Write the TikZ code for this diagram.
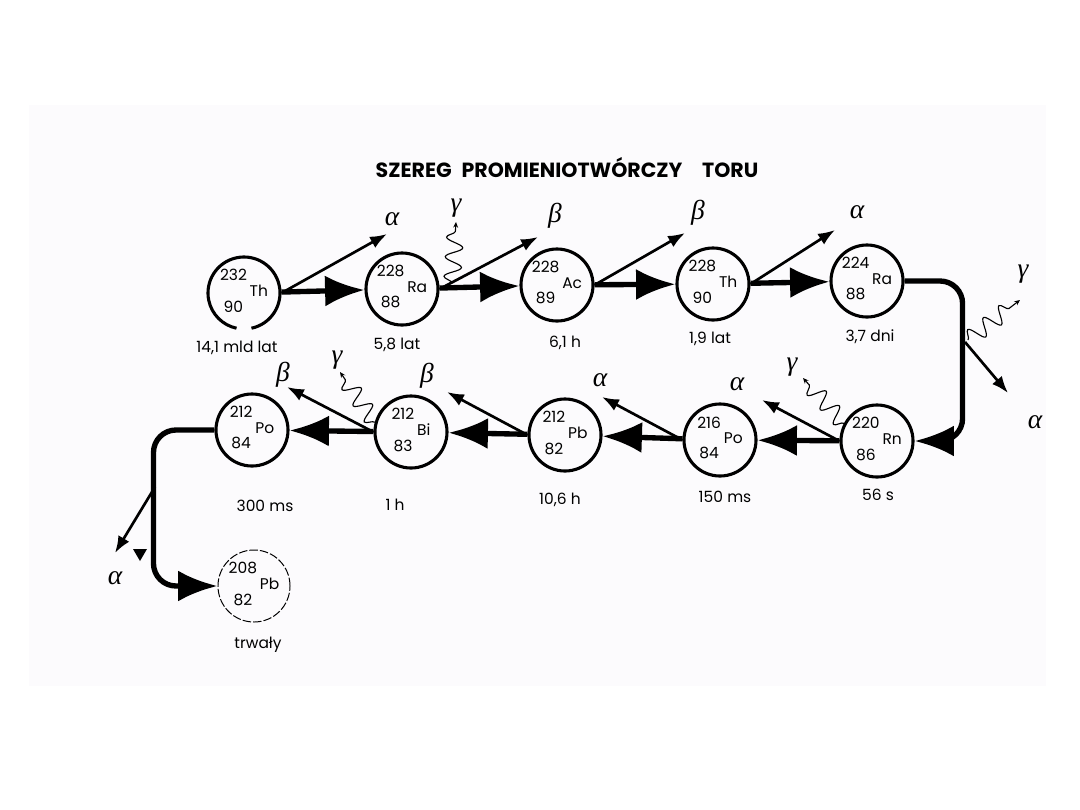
\documentclass[tikz,border=0pt]{standalone}
\usepackage{fontspec}
\setmainfont{Poppins}
\newfontfamily\grk{Liberation Serif}
\usetikzlibrary{arrows.meta,decorations.pathmorphing}
\definecolor{paper}{RGB}{252,251,253}
% nuclide: mass number, atomic number, symbol
\newcommand{\iso}[3]{\begin{tabular}{@{}c@{\hspace{2pt}}l@{}}#1&\\&#3\\#2&\end{tabular}}

\begin{document}
\begin{tikzpicture}[x=0.025cm, y=-0.025cm,
    nuc/.style={circle, draw, line width=2.2pt, minimum size=1.8cm, inner sep=0pt,
                font=\fontsize{11}{10.5}\selectfont},
    decay/.style={line width=3.8pt, -{Latex[length=28pt,width=22pt]}},
    emit/.style={line width=1.9pt, -{Latex[length=12pt,width=9pt]}},
    gam/.style={line width=0.8pt, -{Stealth[length=4pt,width=3.5pt]}, decorate,
                decoration={snake, amplitude=6pt, segment length=14pt, post length=4pt}},
    gr/.style={font=\grk\itshape\fontsize{19.5}{21}\selectfont},
    hl/.style={font=\fontsize{11}{12}\selectfont}]
  \fill[white] (0,0) rectangle (1080,810);
  \fill[paper] (29,105) rectangle (1046,686);
  \useasboundingbox (0,0) rectangle (1080,810);

  \node[font=\fontsize{14.6}{16}\selectfont\bfseries] (title) at (567,168)
    {SZEREG\hspace{7pt}PROMIENIOTWÓRCZY\hspace{14pt}TORU};

  % top row
  \node[nuc, draw=none] (th232) at (244,293) {\iso{232}{90}{Th}};
  \draw[line width=2.2pt] (th232.center) ++(-78:0.9cm) arc[start angle=-78, end angle=258, radius=0.9cm];
  \node[nuc] (ra228) at (402,289) {\iso{228}{88}{Ra}};
  \node[nuc] (ac228) at (557,285) {\iso{228}{89}{Ac}};
  \node[nuc] (th228) at (713,284) {\iso{228}{90}{Th}};
  \node[nuc] (ra224) at (867,281) {\iso{224}{88}{Ra}};
  % bottom row
  \node[nuc] (rn220) at (877,441) {\iso{220}{86}{Rn}};
  \node[nuc] (po216) at (720,440) {\iso{216}{84}{Po}};
  \node[nuc] (pb212) at (565,435) {\iso{212}{82}{Pb}};
  \node[nuc] (bi212) at (411,432) {\iso{212}{83}{Bi}};
  \node[nuc] (po212) at (252,430) {\iso{212}{84}{Po}};
  \node[nuc, line width=0.7pt, dash pattern=on 6pt off 1.5pt] (pb208) at (254,586) {\iso{208}{82}{Pb}};

  % half-lives
  \node[hl] (t1)  at (237,348) {14,1 mld lat};
  \node[hl] (t2)  at (397,345) {5,8 lat};
  \node[hl] (t3)  at (565,343) {6,1 h};
  \node[hl] (t4)  at (710,339) {1,9 lat};
  \node[hl] (t5)  at (870,337) {3,7 dni};
  \node[hl] (t6)  at (265,506) {300 ms};
  \node[hl] (t7)  at (395,505) {1 h};
  \node[hl] (t8)  at (560,500) {10,6 h};
  \node[hl] (t9)  at (725,497) {150 ms};
  \node[hl] (t10) at (878,495) {56 s};
  \node[hl] (t11) at (258,645) {trwały};

  % decays
  \foreach \a/\b in {th232/ra228, ra228/ac228, ac228/th228, th228/ra224,
                     rn220/po216, po216/pb212, pb212/bi212, bi212/po212}
    \draw[decay] (\a) -- (\b);
  \draw[decay, rounded corners=16pt] (ra224.east) -| ([xshift=1.2cm]rn220.east) -- (rn220.east);
  \draw[decay, rounded corners=16pt] (po212.west) -| ([xshift=-1.6cm]pb208.west) -- (pb208.west);

  % emitted particles
  \coordinate (e1) at (387,234);  \coordinate (e2) at (538,237);
  \coordinate (e3) at (685,233);  \coordinate (e4) at (835,230);
  \coordinate (kR) at (965,342);  \coordinate (e5) at (1008,393);
  \coordinate (e6) at (762,400);  \coordinate (e7) at (602,397);
  \coordinate (e8) at (447,392);  \coordinate (e9) at (287,387);
  \coordinate (kL) at (155,487);  \coordinate (e10) at (115,553);
  \draw[emit] (th232.east) -- (e1);
  \draw[emit] (ra228.east) -- (e2);
  \draw[emit] (ac228.east) -- (e3);
  \draw[emit] (th228.east) -- (e4);
  \draw[emit] (kR) -- (e5);
  \draw[emit] (rn220.west) -- (e6);
  \draw[emit] (po216.west) -- (e7);
  \draw[emit] (pb212.west) -- (e8);
  \draw[emit] (bi212.west) -- (e9);
  \draw[emit] (kL) -- (e10);
  \fill (133,549) -- (147,549) -- (140,561) -- cycle;

  \coordinate (g1a) at (452,283);  \coordinate (g1b) at (456,222);
  \coordinate (g2a) at (968,340);  \coordinate (g2b) at (1020,300);
  \coordinate (g3b) at (803,378);  \coordinate (g4b) at (340,372);
  \draw[gam] (g1a) -- (g1b);
  \draw[gam] (g2a) -- (g2b);
  \draw[gam] (rn220.152) -- (g3b);
  \draw[gam] (bi212.165) -- (g4b);

  \node[gr] (l1)  at (392,219) {α};
  \node[gr] (l2)  at (555,216) {β};
  \node[gr] (l3)  at (456,208) {γ};
  \node[gr] (l4)  at (698,213) {β};
  \node[gr] (l5)  at (857,212) {α};
  \node[gr] (l6)  at (1023,274) {γ};
  \node[gr] (l7)  at (1035,422) {α};
  \node[gr] (l8)  at (792,367) {γ};
  \node[gr] (l9)  at (737,384) {α};
  \node[gr] (l10) at (600,380) {α};
  \node[gr] (l11) at (427,376) {β};
  \node[gr] (l12) at (337,360) {γ};
  \node[gr] (l13) at (283,375) {β};
  \node[gr] (l14) at (115,578) {α};
\end{tikzpicture}
\end{document}
